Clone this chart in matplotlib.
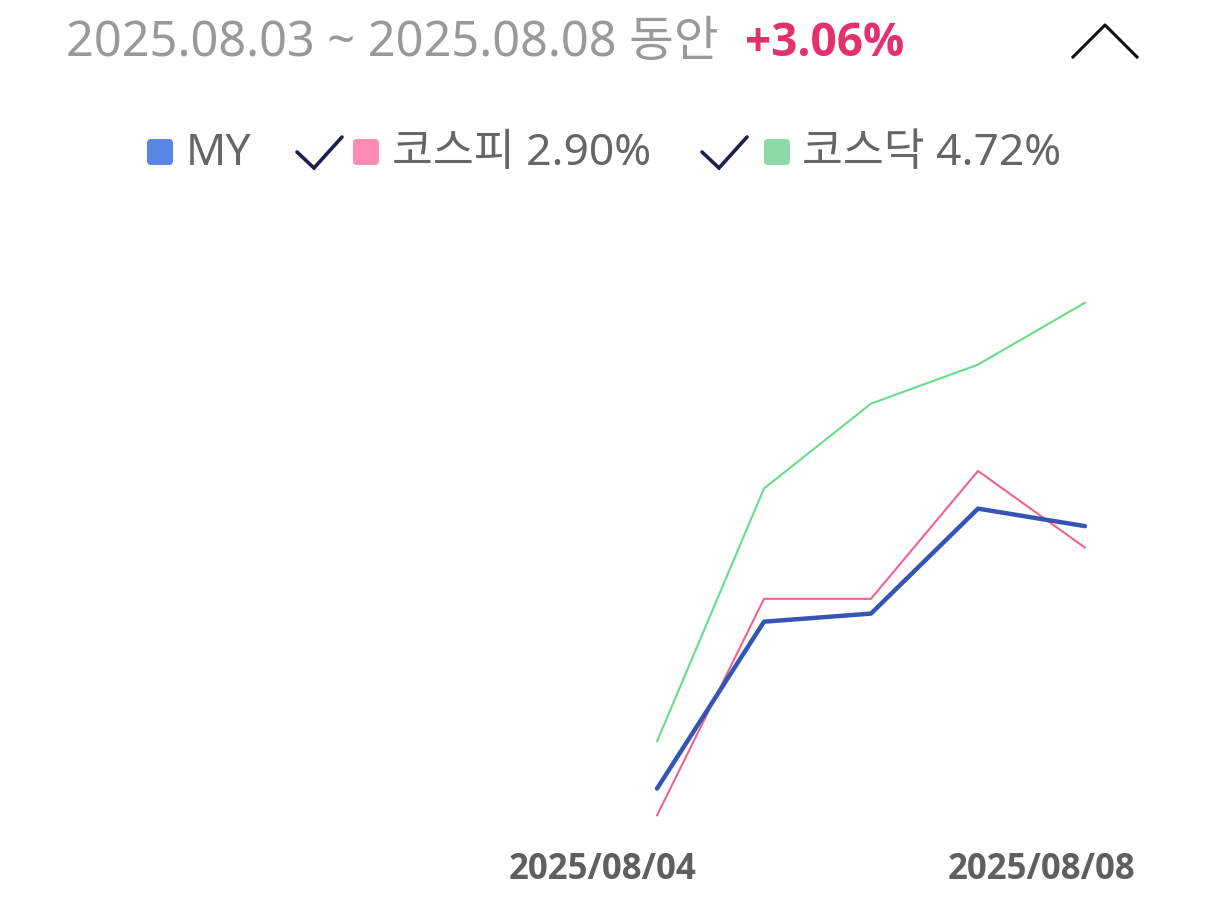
import matplotlib.pyplot as plt
from matplotlib.patches import FancyBboxPatch

plt.rcParams['font.family'] = ['Noto Sans', 'Noto Sans CJK KR', 'DejaVu Sans']
BOLD = ['Open Sans', 'Noto Sans CJK KR', 'DejaVu Sans']

# data: cumulative return (%) since 2025.08.03
dates = ['2025/08/04', '2025/08/05', '2025/08/06', '2025/08/07', '2025/08/08']
my_ret = [1.11, 2.35, 2.41, 3.19, 3.06]
kospi_ret = [0.91, 2.52, 2.52, 3.47, 2.90]
kosdaq_ret = [1.46, 3.34, 3.97, 4.26, 4.72]
shown_ticks = ['2025/08/04', '2025/08/08']

W, H = 1206, 922
fig = plt.figure(figsize=(W / 100, H / 100), dpi=100)

# chart area
ax = fig.add_axes([0, 0, 1, 1])
x = list(range(len(dates)))
ax.plot(x, kosdaq_ret, color='#66dd88', lw=1.5, solid_capstyle='round')
ax.plot(x, kospi_ret, color='#f06292', lw=1.5, solid_capstyle='round')
ax.plot(x, my_ret, color='#3455b5', lw=3.2, solid_capstyle='round', zorder=3)
ax.set_xlim(-657 / 107, (W - 657) / 107)
ax.set_ylim((938 - H) / 134.6, 938 / 134.6)
ax.axis('off')

# overlay in pixel coordinates for header / legend
ui = fig.add_axes([0, 0, 1, 1], zorder=5)
ui.set_xlim(0, W)
ui.set_ylim(H, 0)
ui.axis('off')
ui.patch.set_alpha(0)

ui.text(66, 43, '2025.08.03 ~ 2025.08.08 동안', fontsize=35, color='#999999',
        va='center', ha='left')
ui.text(745, 43, '+3.06%', fontsize=33, color='#e5306f', fontweight='bold',
        family=BOLD, va='center', ha='left')
ui.plot([1073, 1105, 1137], [57, 25, 57], color='#111111', lw=2.2)

# legend
def square(x0, color):
    ui.add_patch(FancyBboxPatch((x0 + 3, 142), 20, 20,
                                boxstyle='round,pad=3,rounding_size=4',
                                fc=color, ec='none'))

def check(x0):
    ui.plot([x0, x0 + 17, x0 + 45], [152, 168, 137], color='#1e1e4f', lw=2.6,
            solid_capstyle='round', solid_joinstyle='miter')

square(147, '#5b86e5')
ui.text(186, 154, 'MY', fontsize=32, color='#666666', va='center', ha='left')
check(297)
square(353, '#ff8ab4')
ui.text(392, 154, '코스피 2.90%', fontsize=32, color='#666666', va='center', ha='left')
check(702)
square(764, '#8dd9a6')
ui.text(802, 154, '코스닥 4.72%', fontsize=32, color='#666666', va='center', ha='left')

# x labels
label_x = {'2025/08/04': 603, '2025/08/08': 1042}
for t in shown_ticks:
    ui.text(label_x[t], 870, t, fontsize=25, color='#5f5f5f', fontweight='bold',
            family=BOLD, va='center', ha='center')

fig.savefig('out.png', dpi=100)
